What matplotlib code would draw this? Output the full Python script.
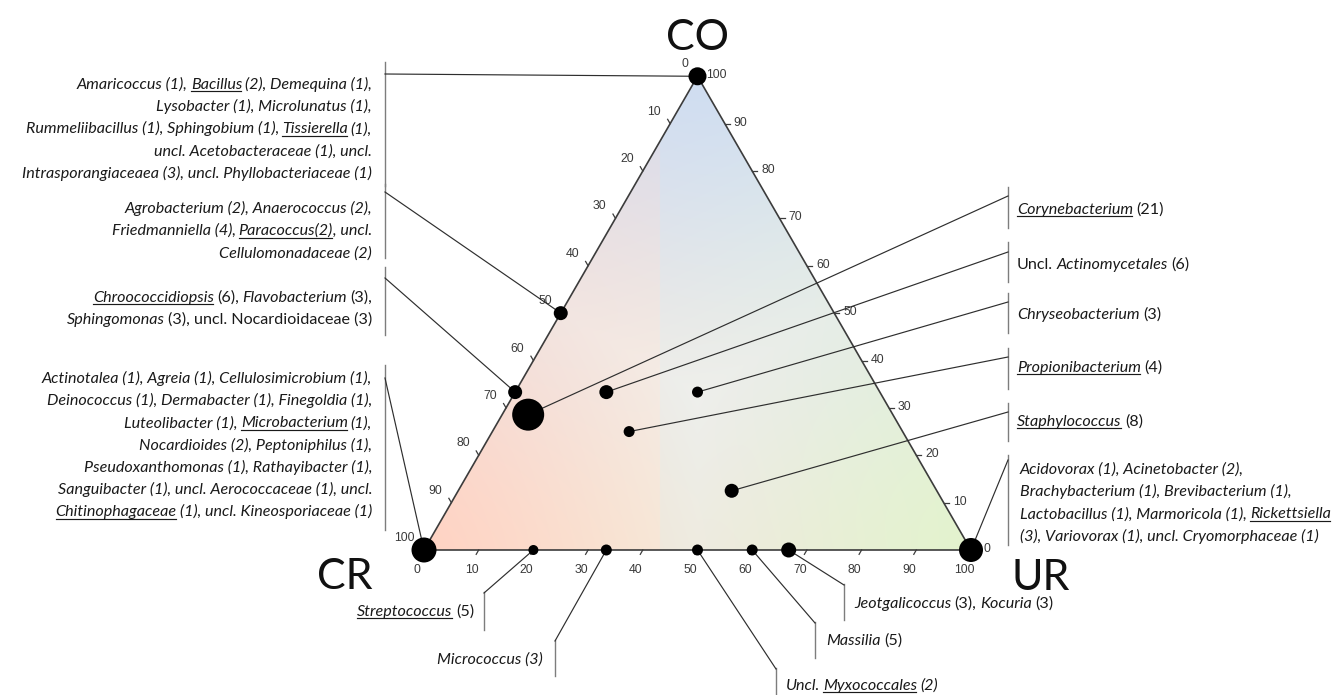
import numpy as np
import matplotlib
matplotlib.use("Agg")
import matplotlib.pyplot as plt
from matplotlib.font_manager import FontProperties
from matplotlib.patches import Polygon
from matplotlib.lines import Line2D

# ---------------------------------------------------------------- data
vertex_labels = ["CR", "UR", "CO"]
tick_values = list(range(0, 101, 10))

# share (%) of samples per habitat for every plotted genus group
group_ids = ["CO only", "CR/CO 1:1", "CR/CO 2:1", "Corynebacterium",
             "Uncl. Actinomycetales", "Chryseobacterium", "Propionibacterium",
             "Staphylococcus", "UR only", "CR only", "Streptococcus",
             "Micrococcus", "Uncl. Myxococcales", "Massilia",
             "Jeotgalicoccus/Kocuria"]
share_cr = [0, 50, 66.67, 66.67, 50, 33.33, 50, 37.5, 0, 100, 80, 66.67, 50, 40, 33.33]
share_co = [100, 50, 33.33, 28.57, 33.33, 33.33, 25, 12.5, 0, 0, 0, 0, 0, 0, 0]
share_ur = [0, 0, 0, 4.76, 16.67, 33.33, 25, 50, 100, 0, 20, 33.33, 50, 60, 66.67]

# label text: each line is a list of (text, style); i = italic, n = upright, u = underlined
labels_co_only = [
    [("Amaricoccus (1), ", "i"), ("Bacillus", "iu"), (" (2), Demequina (1),", "i")],
    [("Lysobacter (1), Microlunatus (1),", "i")],
    [("Rummeliibacillus (1), Sphingobium (1), ", "i"), ("Tissierella", "iu"), (" (1),", "i")],
    [("uncl. Acetobacteraceae (1), uncl.", "i")],
    [("Intrasporangiaceaea (3), uncl. Phyllobacteriaceae (1)", "i")],
]
labels_cr_co_half = [
    [("Agrobacterium (2), Anaerococcus (2),", "i")],
    [("Friedmanniella (4), ", "i"), ("Paracoccus(2)", "iu"), (", uncl.", "i")],
    [("Cellulomonadaceae (2)", "i")],
]
labels_cr_co_third = [
    [("Chroococcidiopsis", "iu"), (" (6), ", "n"), ("Flavobacterium", "i"), (" (3),", "n")],
    [("Sphingomonas", "i"), (" (3), uncl. Nocardioidaceae (3)", "n")],
]
labels_coryne = [[("Corynebacterium", "iu"), (" (21)", "n")]]
labels_actino = [[("Uncl. ", "n"), ("Actinomycetales", "i"), (" (6)", "n")]]
labels_chryseo = [[("Chryseobacterium", "i"), (" (3)", "n")]]
labels_propioni = [[("Propionibacterium", "iu"), (" (4)", "n")]]
labels_staph = [[("Staphylococcus", "iu"), (" (8)", "n")]]
labels_ur_only = [
    [("Acidovorax (1), Acinetobacter (2),", "i")],
    [("Brachybacterium (1), Brevibacterium (1),", "i")],
    [("Lactobacillus (1), Marmoricola (1), ", "i"), ("Rickettsiella", "iu")],
    [("(3), Variovorax (1), uncl. Cryomorphaceae (1)", "i")],
]
labels_cr_only = [
    [("Actinotalea (1), Agreia (1), Cellulosimicrobium (1),", "i")],
    [("Deinococcus (1), Dermabacter (1), Finegoldia (1),", "i")],
    [("Luteolibacter (1), ", "i"), ("Microbacterium", "iu"), (" (1),", "i")],
    [("Nocardioides (2), Peptoniphilus (1),", "i")],
    [("Pseudoxanthomonas (1), Rathayibacter (1),", "i")],
    [("Sanguibacter (1), uncl. Aerococcaceae (1), uncl.", "i")],
    [("Chitinophagaceae", "iu"), (" (1), uncl. Kineosporiaceae (1)", "i")],
]
labels_strep = [[("Streptococcus", "iu"), (" (5)", "n")]]
labels_micro = [[("Micrococcus (3)", "i")]]
labels_myxo = [[("Uncl. ", "i"), ("Myxococcales", "iu"), (" (2)", "i")]]
labels_massilia = [[("Massilia", "i"), (" (5)", "n")]]
labels_jeot = [[("Jeotgalicoccus", "i"), (" (3), ", "n"), ("Kocuria", "i"), (" (3)", "n")]]

group_labels = [labels_co_only, labels_cr_co_half, labels_cr_co_third, labels_coryne,
                labels_actino, labels_chryseo, labels_propioni, labels_staph,
                labels_ur_only, labels_cr_only, labels_strep, labels_micro,
                labels_myxo, labels_massilia, labels_jeot]

# ---------------------------------------------------------------- layout / style
W, H, DPI = 1341, 695, 100
ORIGIN_X, ORIGIN_Y, SIDE = 424.0, 550.0, 547.0   # pixel position of the CR corner, edge length
SQ = np.sqrt(3) / 2

dot_radius_px = [9, 7, 7, 16, 7, 5.5, 5.5, 7, 12, 12.5, 5, 5.5, 5.5, 5.5, 7.5]

# per group: text anchor (x, y of first line), alignment, bracket (x, y0, y1), leader start
label_layout = [
    dict(anchor=(372, 84), ha="right", bracket=(385, 62, 186), lead=(385, 74)),
    dict(anchor=(372, 208), ha="right", bracket=(385, 184, 258), lead=(385, 192)),
    dict(anchor=(372, 297), ha="right", bracket=(385, 267, 335), lead=(385, 278)),
    dict(anchor=(1017, 209), ha="left", bracket=(1008, 187, 228), lead=(1008, 196)),
    dict(anchor=(1017, 264), ha="left", bracket=(1008, 242, 282), lead=(1008, 252)),
    dict(anchor=(1017, 314), ha="left", bracket=(1008, 293, 333), lead=(1008, 302)),
    dict(anchor=(1017, 367), ha="left", bracket=(1008, 348, 389), lead=(1008, 357)),
    dict(anchor=(1017, 421), ha="left", bracket=(1008, 403, 441), lead=(1008, 412)),
    dict(anchor=(1020, 469), ha="left", bracket=(1008, 455, 545), lead=(1008, 460)),
    dict(anchor=(372, 378), ha="right", bracket=(385, 365, 530), lead=(385, 378)),
    dict(anchor=(474, 611), ha="right", bracket=(484, 592, 630), lead=(484, 593)),
    dict(anchor=(543, 659), ha="right", bracket=(555, 640, 676), lead=(555, 641)),
    dict(anchor=(786, 685), ha="left", bracket=(776, 668, 695), lead=(776, 669)),
    dict(anchor=(826, 640), ha="left", bracket=(815, 622, 658), lead=(815, 623)),
    dict(anchor=(854, 603), ha="left", bracket=(844, 584, 620), lead=(844, 585)),
]
LINE_STEP = 22.2
FS = 11.6
GAP = 0.8          # spacing factor for spaces between differently styled pieces
TEXT_COLOR = "#1a1a1a"

fig = plt.figure(figsize=(W / DPI, H / DPI), dpi=DPI)
ax = fig.add_axes([0, 0, 1, 1])
ax.set_xlim(-ORIGIN_X / SIDE, (W - ORIGIN_X) / SIDE)
ax.set_ylim(-(H - ORIGIN_Y) / SIDE, ORIGIN_Y / SIDE)
ax.axis("off")


def tern(cr, co, ur):
    s = cr + co + ur
    return (ur + co / 2.0) / s, co * SQ / s


def px(x, y):
    """Image pixel position -> axes data position."""
    return (x - ORIGIN_X) / SIDE, (ORIGIN_Y - y) / SIDE


P = 1.0 / SIDE  # one pixel in data units

# ---------------------------------------------------------------- colour field
nx, ny = 700, 610
gx, gy = np.meshgrid(np.linspace(0, 1, nx), np.linspace(0, SQ, ny))
w_co = gy / SQ
w_ur = gx - w_co / 2
w_cr = 1 - w_co - w_ur
w = np.clip(np.stack([w_cr, w_co, w_ur], -1), 0, 1)
corner_rgb = np.array([[250, 212, 198], [210, 220, 238], [230, 242, 202]]) / 255.0
wp = w ** 1.6
wp = wp / np.maximum(wp.sum(-1, keepdims=True), 1e-9)
base = wp @ corner_rgb
t = np.clip((w.max(-1) - 1 / 3) / (2 / 3), 0, 1)[..., None] ** 0.7
light = np.array([242, 239, 234]) / 255.0
img = light * (1 - t) + base * t
# slight tint difference of the two halves of the fill
half = gx < (660 - ORIGIN_X) / SIDE
img[half] += np.array([5, -1, -3]) / 255.0
img[~half] += np.array([-3, 1, 3]) / 255.0
img = np.clip(img, 0, 1)

tri = Polygon([tern(100, 0, 0), tern(0, 0, 100), tern(0, 100, 0)], closed=True,
              facecolor="none", edgecolor="#3c3c3c", lw=1.2, zorder=3)
im = ax.imshow(img, origin="lower", extent=(0, 1, 0, SQ), interpolation="bilinear",
               zorder=0, aspect="auto")
clip = Polygon([tern(100, 0, 0), tern(0, 0, 100), tern(0, 100, 0)], closed=True,
               transform=ax.transData)
im.set_clip_path(clip)
ax.add_patch(tri)

# ---------------------------------------------------------------- ticks and tick labels
tick_font = dict(family="Liberation Sans", fontsize=8.8, color="#3a3a3a")
TL = 5 * P
for v in tick_values:
    # bottom edge: UR share
    bx, by = tern(100 - v, 0, v)
    if 0 < v < 100:
        ax.plot([bx, bx - 0.5 * TL], [by, by - SQ * TL], color="#3c3c3c", lw=0.9, zorder=3)
    ax.text(bx - 7 * P, by - 20 * P, str(v), ha="center", va="center", **tick_font)
    # left edge: CR share
    lx, ly = tern(v, 100 - v, 0)
    if 0 < v < 100:
        ax.plot([lx, lx - 0.5 * TL], [ly, ly + SQ * TL], color="#3c3c3c", lw=0.9, zorder=3)
    ax.text(lx - 9 * P, ly + 12 * P, str(v), ha="right", va="center", **tick_font)
    # right edge: CO share
    rx, ry = tern(0, v, 100 - v)
    if 0 < v < 100:
        ax.plot([rx, rx + TL], [ry, ry], color="#3c3c3c", lw=0.9, zorder=3)
    ax.text(rx + (13 if v == 0 else 9) * P, ry + 1 * P, str(v), ha="left", va="center",
            **tick_font)

# ---------------------------------------------------------------- corner titles
vertex_pos = [(345, 577), (1041, 578), (698, 38)]
for name, (x, y) in zip(vertex_labels, vertex_pos):
    ax.text(*px(x, y), name, ha="center", va="center", family="Lato",
            fontsize=31, color="#111111")

# ---------------------------------------------------------------- points
pts = [tern(a, b, c) for a, b, c in zip(share_cr, share_co, share_ur)]
xs = [p[0] for p in pts]
ys = [p[1] for p in pts]
sizes = [(2 * r * 72 / DPI) ** 2 for r in dot_radius_px]
ax.scatter(xs, ys, s=sizes, c="black", edgecolors="none", zorder=6)

# ---------------------------------------------------------------- annotations
renderer = fig.canvas.get_renderer()
props = {
    "i": FontProperties(family="Lato", style="italic", size=FS),
    "n": FontProperties(family="Lato", size=FS),
}


def text_width(s, prop):
    if not s:
        return 0.0
    w1 = renderer.get_text_width_height_descent(s + "|", prop, ismath=False)[0]
    w0 = renderer.get_text_width_height_descent("|", prop, ismath=False)[0]
    return w1 - w0


def draw_line(x, y, segs, ha):
    pieces = []
    for t, st in segs:
        prop = props[st[0]]
        sp = text_width(" ", prop) * GAP
        lead_sp = len(t) - len(t.lstrip(" "))
        trail_sp = len(t) - len(t.rstrip(" "))
        core = t.strip(" ")
        cw = text_width(core, prop)
        pieces.append((core, st, prop, lead_sp * sp, cw, trail_sp * sp))
    total = sum(a + b + c for _, _, _, a, b, c in pieces)
    x0 = x - total if ha == "right" else x
    baseline = y + 5.0
    for core, st, prop, pre, cw, post in pieces:
        cx = x0 + pre
        fig.text(cx / W, 1 - baseline / H, core, fontproperties=prop, ha="left",
                 va="baseline", color=TEXT_COLOR)
        if "u" in st:
            fig.add_artist(Line2D([cx / W, (cx + cw - 1) / W], [1 - (baseline + 2.4) / H] * 2,
                                  transform=fig.transFigure, color=TEXT_COLOR, lw=0.85))
        x0 = cx + cw + post


for k, (lines, lay) in enumerate(zip(group_labels, label_layout)):
    ax_, ay_ = lay["anchor"]
    for j, segs in enumerate(lines):
        draw_line(ax_, ay_ + j * LINE_STEP, segs, lay["ha"])
    bx_, by0, by1 = lay["bracket"]
    ax.plot(*zip(px(bx_, by0), px(bx_, by1)), color="#7d7d7d", lw=1.0, zorder=2)
    sx, sy = px(*lay["lead"])
    ax.plot([sx, xs[k]], [sy, ys[k]], color="#2e2e2e", lw=0.85, zorder=4)

fig.savefig("out.png", dpi=DPI, facecolor="white")
